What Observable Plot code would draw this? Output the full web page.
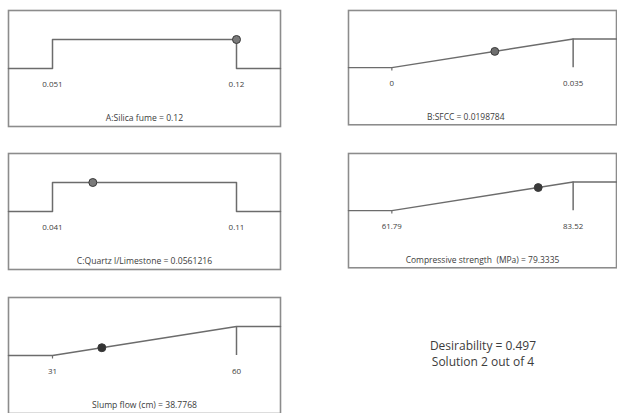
<!DOCTYPE html>
<html>
<head>
<meta charset="utf-8">
<script src="https://cdn.jsdelivr.net/npm/d3@7"></script>
<script src="https://cdn.jsdelivr.net/npm/@observablehq/plot@0.6"></script>
<style>
  html, body { margin: 0; padding: 0; background: #fff; }
  #wrap { position: relative; width: 617px; height: 413px; overflow: hidden; background: #fff; font-family: "Open Sans", sans-serif; }
  .panel { position: absolute; }
  .panel svg { overflow: visible; }
  #desir { position: absolute; left: 383px; width: 200px; top: 338px; text-align: center; font-size: 12px; line-height: 16px; color: #3c3c3c; }
</style>
</head>
<body>
<div id="wrap"></div>
<script>
// ---- data ----
const factors = ["A:Silica fume", "B:SFCC", "C:Quartz l/Limestone", "Compressive strength  (MPa)", "Slump flow (cm)"];
const lows = [0.051, 0, 0.041, 61.79, 31];
const highs = [0.12, 0.035, 0.11, 83.52, 60];
const lowLabels = ["0.051", "0", "0.041", "61.79", "31"];
const highLabels = ["0.12", "0.035", "0.11", "83.52", "60"];
const values = [0.12, 0.0198784, 0.0561216, 79.3335, 38.7768];
const valueLabels = ["0.12", "0.0198784", "0.0561216", "79.3335", "38.7768"];
const goals = ["range", "maximize", "range", "maximize", "maximize"];
const desirability = 0.497;
const solutionText = "Solution 2 out of 4";

// ---- layout ----
const panelLeft = [8, 348, 8, 348, 8];
const panelTop = [10, 10, 153, 153, 297];
const titleDx = [0, -17, 0, 0, 0];
const dotFill = ["#7a7a7a", "#6e6e6e", "#7a7a7a", "#3a3a3a", "#333333"];

const BOX_W = 272, BOX_H = 116, PAD = 44, INNER = 184;
const wrap = document.getElementById("wrap");

factors.forEach((name, i) => {
  const lo = lows[i], hi = highs[i], v = values[i];
  const span = hi - lo;
  const dmin = lo - span * PAD / INNER, dmax = hi + span * PAD / INNER;
  let curve, d;
  if (goals[i] === "range") {
    curve = [[dmin, 0], [lo, 0], [lo, 1], [hi, 1], [hi, 0], [dmax, 0]];
    d = (v >= lo && v <= hi) ? 1 : 0;
  } else {
    curve = [[dmin, 0], [lo, 0], [hi, 1], [dmax, 1]];
    d = Math.max(0, Math.min(1, (v - lo) / span));
  }
  const marks = [
    Plot.frame({stroke: "#8c8c8c", strokeWidth: 1.6}),
    Plot.line(curve, {x: d => d[0], y: d => d[1], stroke: "#6c6c6c", strokeWidth: 1.5})
  ];
  if (goals[i] === "maximize") {
    marks.push(Plot.ruleX([hi], {y1: 0, y2: 1, stroke: "#6c6c6c", strokeWidth: 1.5}));
    marks.push(Plot.ruleX([lo], {y1: 0, y2: -0.12, stroke: "#6c6c6c", strokeWidth: 1.2}));
  }
  marks.push(Plot.text([[lo, lowLabels[i]], [hi, highLabels[i]]], {
    x: d => d[0], y: () => 0, text: d => d[1], dy: 16, fontSize: 8, fill: "#404040"
  }));
  marks.push(Plot.text([`${name} = ${valueLabels[i]}`], {
    frameAnchor: "bottom", dy: -8, dx: titleDx[i], lineAnchor: "middle", fontSize: 8.6, fill: "#3c3c3c",
    style: "white-space: pre"
  }));
  marks.push(Plot.dot([[v, d]], {x: d => d[0], y: d => d[1], r: 4, fill: dotFill[i], stroke: "#3a3a3a", strokeWidth: 1}));

  const chart = Plot.plot({
    width: BOX_W + 2, height: BOX_H + 2,
    marginLeft: 1, marginRight: 1, marginTop: 1, marginBottom: 1,
    x: {domain: [dmin, dmax], axis: null},
    y: {domain: [0, 1], range: [1 + 58, 1 + 29], axis: null},
    style: {fontFamily: "Open Sans, sans-serif", background: "transparent", overflow: "visible"},
    marks
  });
  const div = document.createElement("div");
  div.className = "panel";
  div.style.left = (panelLeft[i] - 1) + "px";
  div.style.top = (panelTop[i] - 1) + "px";
  div.appendChild(chart);
  wrap.appendChild(div);
});

const t = document.createElement("div");
t.id = "desir";
t.innerHTML = `Desirability = ${desirability.toFixed(3)}<br>${solutionText}`;
wrap.appendChild(t);
</script>
</body>
</html>
